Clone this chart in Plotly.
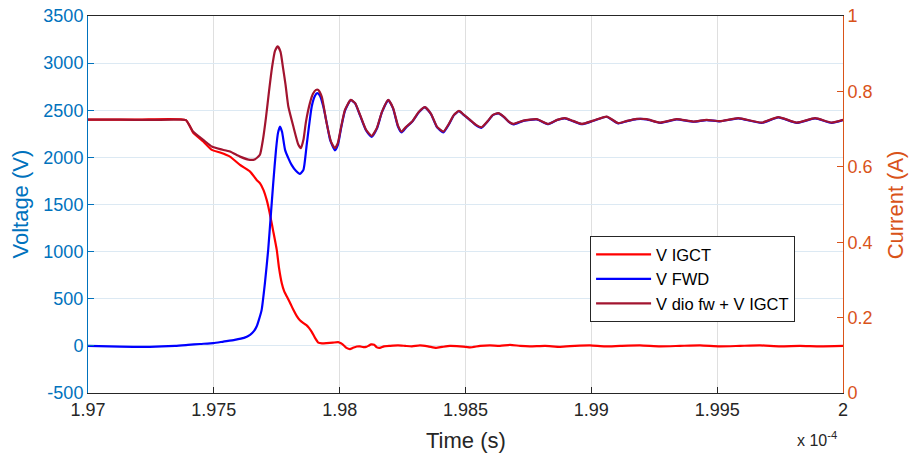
import plotly.graph_objects as go

# time axis in units of 1e-4 s
t_sum = [1.97000, 1.97127, 1.97246, 1.97346, 1.97389, 1.97417, 1.97458, 1.97492, 1.97525, 1.97564,
         1.97604, 1.97644, 1.97664, 1.97683, 1.97695, 1.97707, 1.97719, 1.97731, 1.97743, 1.97754,
         1.97765, 1.97775, 1.97785, 1.97796, 1.97816, 1.97836, 1.97846, 1.97856, 1.97866, 1.97882,
         1.97894, 1.97906, 1.97915, 1.97929, 1.97948, 1.97966, 1.97981, 1.97993, 1.98005, 1.98021,
         1.98044, 1.98061, 1.98081, 1.98105, 1.98127, 1.98148, 1.98168, 1.98193, 1.98212, 1.98232,
         1.98246, 1.98264, 1.98287, 1.98315, 1.98339, 1.98363, 1.98387, 1.98412, 1.98434, 1.98454,
         1.98474, 1.98494, 1.98518, 1.98542, 1.98564, 1.98589, 1.98609, 1.98630, 1.98653, 1.98673,
         1.98690, 1.98730, 1.98783, 1.98829, 1.98864, 1.98895, 1.98927, 1.98962, 1.99008, 1.99061,
         1.99107, 1.99142, 1.99180, 1.99220, 1.99273, 1.99339, 1.99405, 1.99458, 1.99511, 1.99584,
         1.99677, 1.99743, 1.99816, 1.99889, 1.99955, 2.00000]
v_sum = [2400, 2400, 2398, 2400, 2395, 2274, 2186, 2115, 2087, 2062,
         2008, 1973, 1981, 2027, 2186, 2419, 2695, 2950, 3130, 3178,
         3119, 2950, 2769, 2539, 2327, 2133, 2098, 2186, 2377, 2578,
         2674, 2716, 2716, 2642, 2366, 2164, 2098, 2154, 2313, 2504,
         2610, 2578, 2451, 2292, 2228, 2313, 2483, 2610, 2525, 2334,
         2274, 2324, 2377, 2483, 2533, 2462, 2324, 2274, 2355, 2451,
         2493, 2451, 2398, 2345, 2320, 2387, 2451, 2469, 2430, 2377,
         2355, 2390, 2405, 2355, 2398, 2416, 2387, 2355, 2390, 2433,
         2363, 2387, 2408, 2405, 2369, 2405, 2380, 2398, 2384, 2416,
         2369, 2427, 2369, 2416, 2369, 2398]

t_fwd = [1.97000, 1.97127, 1.97246, 1.97346, 1.97397, 1.97445, 1.97498, 1.97538, 1.97583, 1.97620,
         1.97644, 1.97660, 1.97670, 1.97679, 1.97690, 1.97703, 1.97716, 1.97726, 1.97736, 1.97747,
         1.97755, 1.97763, 1.97771, 1.97783, 1.97796, 1.97809, 1.97826, 1.97842, 1.97856, 1.97869,
         1.97889, 1.97902, 1.97911, 1.97922, 1.97935, 1.97950, 1.97962, 1.97981, 1.97993, 1.98005,
         1.98021, 1.98044, 1.98061, 1.98081, 1.98105, 1.98127, 1.98148, 1.98168, 1.98193, 1.98212,
         1.98232, 1.98246, 1.98264, 1.98287, 1.98315, 1.98339, 1.98363, 1.98387, 1.98412, 1.98434,
         1.98454, 1.98474, 1.98494, 1.98518, 1.98542, 1.98564, 1.98589, 1.98609, 1.98630, 1.98653,
         1.98673, 1.98690, 1.98730, 1.98783, 1.98829, 1.98864, 1.98895, 1.98927, 1.98962, 1.99008,
         1.99061, 1.99107, 1.99142, 1.99180, 1.99220, 1.99273, 1.99339, 1.99405, 1.99458, 1.99511,
         1.99584, 1.99677, 1.99743, 1.99816, 1.99889, 1.99955, 2.00000]
v_fwd = [0, -8, -10, 0, 10, 20, 29, 46, 64, 85,
         117, 159, 205, 276, 382, 665, 1019, 1372, 1726, 2080,
         2260, 2327, 2271, 2080, 1992, 1920, 1857, 1825, 1867, 2133,
         2539, 2653, 2681, 2653, 2539, 2345, 2186, 2075, 2133, 2302,
         2493, 2608, 2575, 2445, 2285, 2218, 2305, 2480, 2608, 2520,
         2325, 2265, 2318, 2375, 2480, 2530, 2458, 2318, 2265, 2350,
         2448, 2490, 2448, 2395, 2340, 2314, 2385, 2448, 2466, 2428,
         2374, 2350, 2388, 2403, 2352, 2396, 2414, 2385, 2352, 2388,
         2431, 2360, 2385, 2406, 2403, 2366, 2403, 2378, 2396, 2382,
         2414, 2366, 2425, 2366, 2414, 2366, 2396]

t_igct = [1.97000, 1.97200, 1.97389, 1.97419, 1.97458, 1.97492, 1.97525, 1.97564, 1.97604, 1.97644,
          1.97670, 1.97683, 1.97697, 1.97710, 1.97716, 1.97726, 1.97735, 1.97750, 1.97759, 1.97770,
          1.97779, 1.97790, 1.97803, 1.97816, 1.97829, 1.97842, 1.97856, 1.97869, 1.97878, 1.97889,
          1.97902, 1.97915, 1.97930, 1.97948, 1.97973, 1.97994, 1.98005, 1.98014, 1.98027, 1.98041,
          1.98053, 1.98068, 1.98081, 1.98094, 1.98105, 1.98114, 1.98125, 1.98137, 1.98148, 1.98160,
          1.98176, 1.98200, 1.98232, 1.98260, 1.98287, 1.98319, 1.98351, 1.98383, 1.98407, 1.98438,
          1.98478, 1.98518, 1.98558, 1.98597, 1.98637, 1.98677, 1.98717, 1.98756, 1.98816, 1.98876,
          1.98935, 1.98995, 1.99054, 1.99114, 1.99193, 1.99273, 1.99352, 1.99432, 1.99511, 1.99591,
          1.99670, 1.99750, 1.99829, 1.99909, 2.00000]
v_igct = [2400, 2400, 2395, 2257, 2168, 2080, 2051, 2008, 1920, 1849,
          1761, 1726, 1655, 1549, 1485, 1355, 1231, 1019, 828, 665,
          584, 523, 456, 382, 318, 271, 241, 218, 191, 149,
          85, 35, 27, 29, 34, 39, 27, 11, -21, -35,
          -21, -7, -5, -14, -11, 0, 16, 11, -16, -21,
          -5, 0, 5, 0, -5, 5, -5, -21, -11, 0,
          -5, -16, 0, 5, 0, 11, 0, -5, 0, -10,
          0, 5, -5, 0, 5, -5, 0, 5, -5, 0,
          5, -5, 0, -5, 0]

x_tickvals = [1.97, 1.975, 1.98, 1.985, 1.99, 1.995, 2.0]
x_ticktext = ["1.97", "1.975", "1.98", "1.985", "1.99", "1.995", "2"]
y_tickvals = [-500, 0, 500, 1000, 1500, 2000, 2500, 3000, 3500]
y_ticktext = ["-500", "0", "500", "1000", "1500", "2000", "2500", "3000", "3500"]
y2_tickvals = [0, 0.2, 0.4, 0.6, 0.8, 1.0]
y2_ticktext = ["0", "0.2", "0.4", "0.6", "0.8", "1"]

BLUE_AX = "#0072BD"
ORANGE_AX = "#D95319"
FONT = "Liberation Sans, Arial, sans-serif"

fig = go.Figure()
fig.add_trace(go.Scatter(x=t_igct, y=v_igct, name="V IGCT", mode="lines",
                         line=dict(color="#FF0000", width=2.2, shape="spline", smoothing=0.5)))
fig.add_trace(go.Scatter(x=t_fwd, y=v_fwd, name="V FWD", mode="lines",
                         line=dict(color="#0000FF", width=2.2, shape="spline", smoothing=0.5)))
fig.add_trace(go.Scatter(x=t_sum, y=v_sum, name="V dio fw + V IGCT", mode="lines",
                         line=dict(color="#A2142F", width=2.2, shape="spline", smoothing=0.5)))
fig.add_trace(go.Scatter(x=[None], y=[None], yaxis="y2", showlegend=False, hoverinfo="skip"))

fig.update_layout(
    width=912, height=460,
    margin=dict(l=88, r=69, t=16, b=67, autoexpand=False),
    paper_bgcolor="white", plot_bgcolor="white",
    font=dict(family=FONT, size=16, color="#262626"),
    showlegend=True,
    legend=dict(x=0.665, y=0.416, xanchor="left", yanchor="top",
                bgcolor="white", bordercolor="#262626", borderwidth=1,
                font=dict(size=16.5, color="#000000"), tracegroupgap=0,
                itemwidth=55),
    xaxis=dict(range=[1.97, 2.0], tickmode="array", tickvals=x_tickvals, ticktext=x_ticktext,
               showgrid=True, gridcolor="#DFDFDF", gridwidth=1,
               showline=True, linecolor="#262626", linewidth=1, mirror=True,
               ticks="inside", ticklen=6, tickcolor="#262626",
               tickfont=dict(size=18, color="#262626"), automargin=False,
               ticklabeloverflow="allow", zeroline=False),
    yaxis=dict(range=[-500, 3500], tickmode="array", tickvals=y_tickvals, ticktext=y_ticktext,
               showgrid=True, gridcolor="#DCE9F3", gridwidth=1,
               showline=True, linecolor=BLUE_AX, linewidth=1,
               ticks="inside", ticklen=6, tickcolor=BLUE_AX,
               tickfont=dict(size=18, color=BLUE_AX), automargin=False,
               ticklabeloverflow="allow", zeroline=False),
    yaxis2=dict(range=[0, 1], overlaying="y", side="right", tickmode="array",
                tickvals=y2_tickvals, ticktext=y2_ticktext,
                showgrid=False, showline=True, linecolor=ORANGE_AX, linewidth=1,
                ticks="inside", ticklen=6, tickcolor=ORANGE_AX,
                tickfont=dict(size=18, color=ORANGE_AX), automargin=False,
                ticklabeloverflow="allow", zeroline=False),
    annotations=[
        dict(text="Time (s)", xref="paper", yref="paper", x=0.5, y=-0.127,
             xanchor="center", yanchor="middle", showarrow=False,
             font=dict(size=22, color="#262626")),
        dict(text="Voltage (V)", xref="paper", yref="paper", x=-0.09, y=0.5,
             xanchor="center", yanchor="middle", textangle=-90, showarrow=False,
             font=dict(size=22, color=BLUE_AX)),
        dict(text="Current (A)", xref="paper", yref="paper", x=1.07, y=0.5,
             xanchor="center", yanchor="middle", textangle=-90, showarrow=False,
             font=dict(size=22, color=ORANGE_AX)),
        dict(text="x 10<sup>-4</sup>", xref="paper", yref="paper", x=0.995, y=-0.09,
             xanchor="right", yanchor="top", showarrow=False,
             font=dict(size=16, color="#262626")),
    ],
)

fig.write_html("out.html", config={"displayModeBar": False},
               post_script="document.body.style.margin='0';")
